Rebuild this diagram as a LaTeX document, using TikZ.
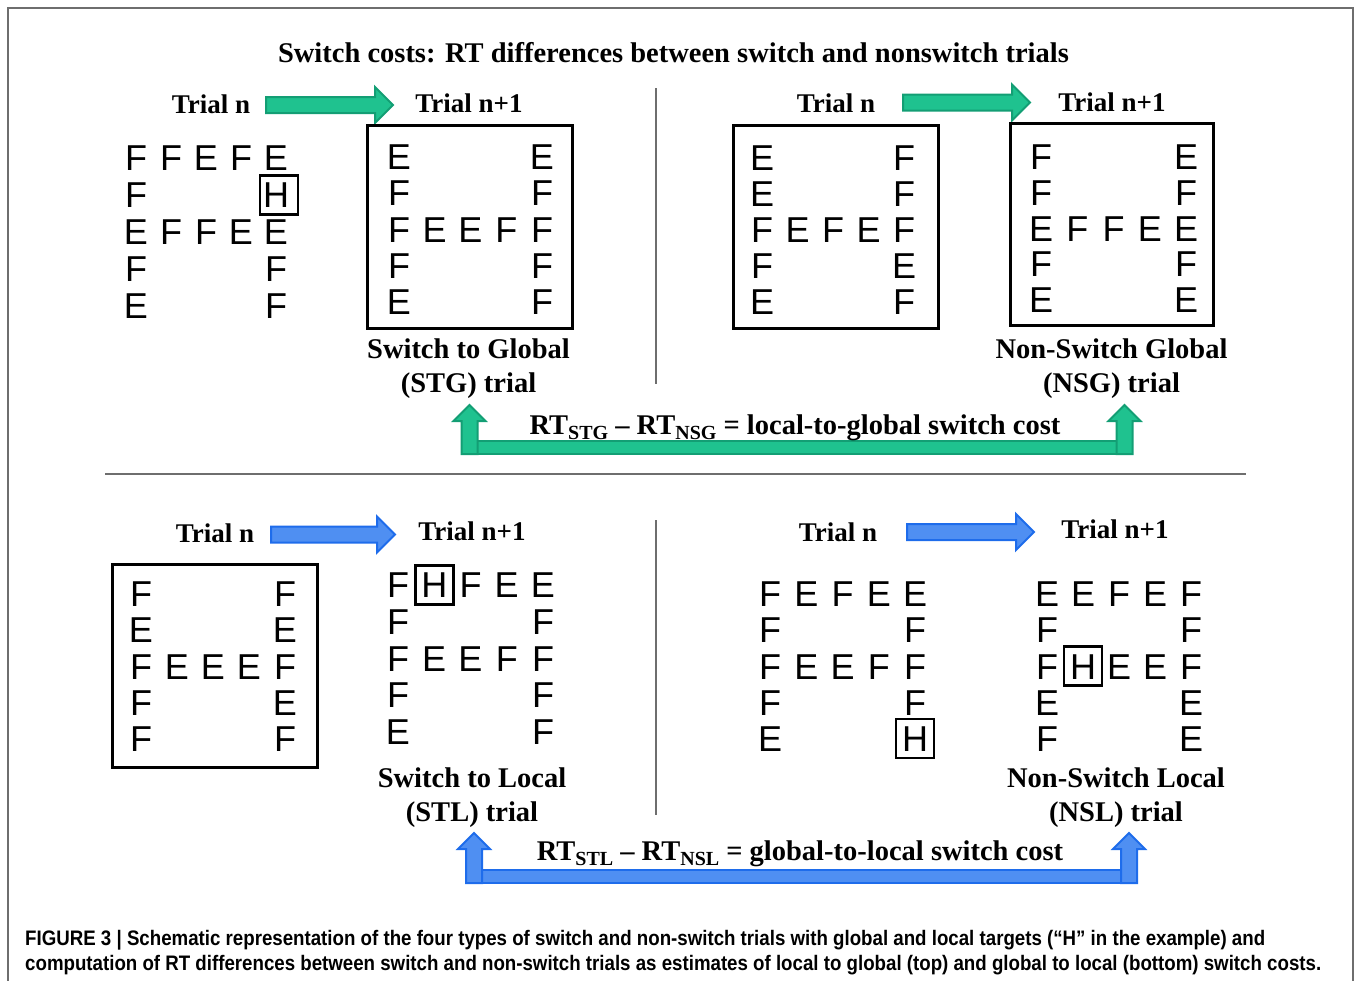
\documentclass[tikz,border=0pt]{standalone}
\usepackage{fontspec}
\setmainfont{Liberation Serif}
\newfontfamily\letterfont{Liberation Sans}
\newfontfamily\capfont[FakeStretch=0.89]{Liberation Sans}
\usetikzlibrary{matrix}

\definecolor{gfill}{HTML}{1FC28F}
\definecolor{gline}{HTML}{139E74}
\definecolor{bfill}{HTML}{4F8FF2}
\definecolor{bline}{HTML}{1E6CEB}
\definecolor{rulegray}{HTML}{6E6E6E}

% subscript of the RT terms
\newcommand\rtsub[1]{\raisebox{-5pt}{\fontsize{20}{20}\selectfont #1}}

% horizontal block arrow: x start, x tip, y centre, style
\newcommand\rblock[4]{%
  \draw[#4] (#1,#3-8) -- (#2-18,#3-8) -- (#2-18,#3-18) -- (#2,#3)
    -- (#2-18,#3+18) -- (#2-18,#3+8) -- (#1,#3+8) -- cycle;}
% upward block arrow: x centre, y bottom, y tip, style
\newcommand\ublock[4]{%
  \draw[#4] (#1-8,#2) -- (#1-8,#3+16) -- (#1-16,#3+16) -- (#1,#3)
    -- (#1+16,#3+16) -- (#1+8,#3+16) -- (#1+8,#2) -- cycle;}

\tikzset{
  x=1pt, y=-1pt,
  trial/.style={font=\bfseries\fontsize{27}{27}\selectfont, anchor=base, inner sep=0pt},
  head/.style={font=\bfseries\fontsize{28.5}{28.5}\selectfont, anchor=base, inner sep=0pt},
  lgrid/.style 2 args={matrix of nodes, inner sep=0pt, column sep=0pt, row sep=0pt,
    nodes={font=\letterfont\fontsize{36}{36}\selectfont, inner sep=0pt,
      minimum width=#1, minimum height=#2, text height=26, text depth=0, anchor=center}},
  trialbox/.style={draw, line width=3, inner sep=0pt},
  hframe/.style={draw, line width=2.5, inner sep=0pt, minimum width=38, minimum height=39},
  divider/.style={draw=rulegray, line width=1.3},
  garrow/.style={fill=gfill, draw=gline, line width=2, line join=miter},
  barrow/.style={fill=bfill, draw=bline, line width=2, line join=miter},
  capline/.style={font=\capfont\bfseries\fontsize{21}{21}\selectfont, anchor=base west, inner sep=0pt},
}

\begin{document}
\begin{tikzpicture}
\useasboundingbox (0,0) rectangle (1357,980);
% outer figure frame (open at the bottom)
\draw[rulegray, line width=1.5] (8,990) -- (8,8) -- (1353,8) -- (1353,990);

\node[head] (title) at (673.5,62) {Switch costs: RT differences between switch and nonswitch trials};

% ---------------- top half: local-to-global ----------------
\node[trial] (tn1) at (211,113) {Trial n};
\node[trial] (tm1) at (469,112) {Trial n+1};
\rblock{266}{393}{105}{garrow}

\matrix (g1) [lgrid={35}{37}] at (206,231) {
  F & F & E & F & E \\
  F &   &   &   & H \\
  E & F & F & E & E \\
  F &   &   &   & F \\
  E &   &   &   & F \\
};
\node[hframe] (h1) at ([xshift=3pt,yshift=-1pt]g1-2-5) {};

\node[trialbox, minimum width=205, minimum height=203] (b1) at (469.5,226.5) {};
\matrix (g2) [lgrid={35.75}{36.25}] at (470.5,229) {
  E &   &   &   & E \\
  F &   &   &   & F \\
  F & E & E & F & F \\
  F &   &   &   & F \\
  E &   &   &   & F \\
};
\node[head] (l1a) at (468.5,358) {Switch to Global};
\node[head] (l1b) at (468.5,392) {(STG) trial};

\draw[divider] (656,88) -- (656,384);

\node[trial] (tn2) at (836,112) {Trial n};
\node[trial] (tm2) at (1112,111) {Trial n+1};
\rblock{903}{1030}{102.5}{garrow}

\node[trialbox, minimum width=205, minimum height=203] (b2) at (835.5,226.5) {};
\matrix (g3) [lgrid={35.5}{36}] at (833,229) {
  E &   &   &   & F \\
  E &   &   &   & F \\
  F & E & F & E & F \\
  F &   &   &   & E \\
  E &   &   &   & F \\
};

\node[trialbox, minimum width=203, minimum height=202] (b3) at (1111.5,224) {};
\matrix (g4) [lgrid={36.25}{35.75}] at (1113.5,228) {
  F &   &   &   & E \\
  F &   &   &   & F \\
  E & F & F & E & E \\
  F &   &   &   & F \\
  E &   &   &   & E \\
};
\node[head] (l2a) at (1111.5,358) {Non-Switch Global};
\node[head] (l2b) at (1111.5,392) {(NSG) trial};

% local-to-global cost bracket
\draw[garrow] (462,441) rectangle (1132,454);
\ublock{469.5}{454}{405}{garrow}
\ublock{1124.5}{454}{405}{garrow}
\node[head] (eq1) at (795,434) {RT\rtsub{STG} -- RT\rtsub{NSG} = local-to-global switch cost};

\draw[divider] (105,474) -- (1246,474);

% ---------------- bottom half: global-to-local ----------------
\node[trial] (tn3) at (215,542) {Trial n};
\node[trial] (tm3) at (472,540) {Trial n+1};
\rblock{271}{395}{534.5}{barrow}

\node[trialbox, minimum width=205, minimum height=203] (b4) at (215,666) {};
\matrix (g5) [lgrid={36}{36.25}] at (213,666) {
  F &   &   &   & F \\
  E &   &   &   & E \\
  F & E & E & E & F \\
  F &   &   &   & E \\
  F &   &   &   & F \\
};

\matrix (g6) [lgrid={36.25}{36.6}] at (470.5,658) {
  F & H & F & E & E \\
  F &   &   &   & F \\
  F & E & E & F & F \\
  F &   &   &   & F \\
  E &   &   &   & F \\
};
\node[hframe] (h2) at (g6-1-2) {};
\node[head] (l3a) at (472,787) {Switch to Local};
\node[head] (l3b) at (472,821) {(STL) trial};

\draw[divider] (656,520) -- (656,815);

\node[trial] (tn4) at (838,541) {Trial n};
\node[trial] (tm4) at (1115,538) {Trial n+1};
\rblock{907}{1034}{532}{barrow}

\matrix (g7) [lgrid={36.25}{36.25}] at (842.5,666) {
  F & E & F & E & E \\
  F &   &   &   & F \\
  F & E & E & F & F \\
  F &   &   &   & F \\
  E &   &   &   & H \\
};
\node[hframe, fill=white] (h3) at (g7-5-5) {};
\node[font=\letterfont\fontsize{36}{36}\selectfont, inner sep=0pt, text height=26, text depth=0] (h3t) at (g7-5-5) {H};

\matrix (g8) [lgrid={36}{36.25}] at (1119,666) {
  E & E & F & E & F \\
  F &   &   &   & F \\
  F & H & E & E & F \\
  E &   &   &   & E \\
  F &   &   &   & E \\
};
\node[hframe] (h4) at (g8-3-2) {};
\node[head] (l4a) at (1116,787) {Non-Switch Local};
\node[head] (l4b) at (1116,821) {(NSL) trial};

% global-to-local cost bracket
\draw[barrow] (466,870) rectangle (1137,883);
\ublock{474}{883}{833}{barrow}
\ublock{1129}{883}{833}{barrow}
\node[head] (eq2) at (800,860) {RT\rtsub{STL} -- RT\rtsub{NSL} = global-to-local switch cost};

% caption
\node[capline] (cap1) at (25,945) {FIGURE 3 | Schematic representation of the four types of switch and non-switch trials with global and local targets (“H” in the example) and};
\node[capline] (cap2) at (25,970) {computation of RT differences between switch and non-switch trials as estimates of local to global (top) and global to local (bottom) switch costs.};
\end{tikzpicture}
\end{document}
